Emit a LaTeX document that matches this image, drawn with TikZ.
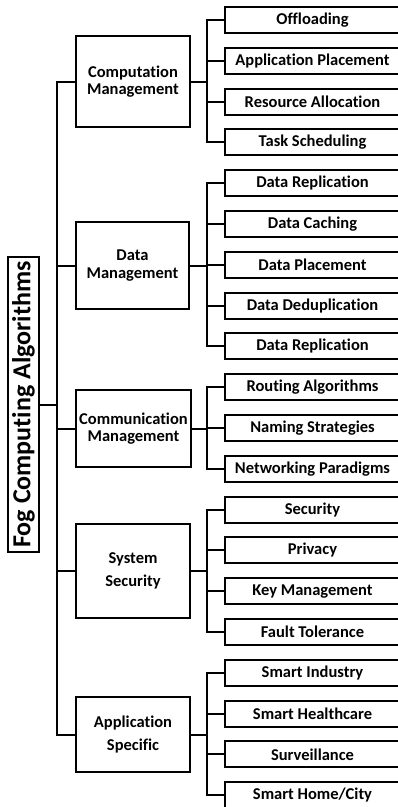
\documentclass[tikz,border=0pt]{standalone}
\usepackage{fontspec}
\setmainfont[Ligatures={NoCommon}]{Carlito}
\begin{document}
\begin{tikzpicture}[x=1pt,y=-1pt,
  line width=2pt,
  leafbox/.style={draw, rectangle, inner sep=0pt, minimum width=175pt, minimum height=26pt,
    font=\fontsize{16.5}{18}\selectfont\bfseries},
  catbox/.style={draw, rectangle, inner sep=0pt, align=center,
    font=\fontsize{16.5}{17.6}\selectfont\bfseries},
  titlebox/.style={draw, rectangle, inner sep=0pt, minimum width=295pt, minimum height=31pt,
    rotate=90, font=\fontsize{26}{28}\selectfont\bfseries}]
\useasboundingbox (0,0) rectangle (397,807);

% root
\node[titlebox] (root) at (23.5,404.5) {Fog Computing Algorithms};

% categories
\node[catbox, minimum width=114pt, minimum height=91pt] (c1) at (133,81.5) {Computation\\Management};
\node[catbox, minimum width=113pt, minimum height=87pt] (c2) at (132.5,265.5) {Data\\Management};
\node[catbox, minimum width=115pt, minimum height=77pt] (c3) at (133.5,428.5) {Communication\\Management};
\node[catbox, minimum width=114pt, minimum height=94pt] (c4) at (133,571) {System\\[6pt]Security};
\node[catbox, minimum width=114pt, minimum height=75pt] (c5) at (133,734.5) {Application\\[6pt]Specific};

% leaves
\foreach \i/\t in {0/Offloading, 1/Application Placement, 2/Resource Allocation, 3/Task Scheduling,
  4/Data Replication, 5/Data Caching, 6/Data Placement, 7/Data Deduplication, 8/Data Replication,
  9/Routing Algorithms, 10/Naming Strategies, 11/Networking Paradigms,
  12/Security, 13/Privacy, 14/Key Management, 15/Fault Tolerance,
  16/Smart Industry, 17/Smart Healthcare, 18/Surveillance, 19/{Smart Home/City}}
  \node[leafbox] (l\i) at (312.5,{20+40.8*\i}) {\t};

% buses
\coordinate (mainbus) at (57,0);
\coordinate (leafbus) at (207,0);

% root to categories
\draw (c1.west) -- (c1.west -| mainbus) |- (c5.west);
\foreach \c in {c2,c3,c4} \draw (\c.west) -- (\c.west -| mainbus);
\draw (root.south) -- (root.south -| mainbus);

% categories to leaves
\foreach \c/\a/\b/\m in {c1/0/3/{1,2}, c2/4/8/{5,6,7}, c3/9/11/{10}, c4/12/15/{13,14}, c5/16/19/{17,18}} {
  \draw (l\a.west) -- (l\a.west -| leafbus) |- (l\b.west);
  \foreach \k in \m \draw (l\k.west) -- (l\k.west -| leafbus);
  \draw (\c.east) -- (\c.east -| leafbus);
}
\end{tikzpicture}
\end{document}
